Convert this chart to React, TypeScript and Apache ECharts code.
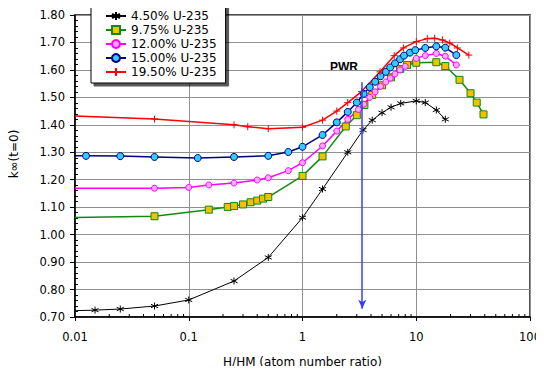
import React, { useEffect, useRef } from "react";
import * as echarts from "echarts";

const seriesNames = ["4.50% U-235", "9.75% U-235", "12.00% U-235", "15.00% U-235", "19.50% U-235"];

const u450: [number, number][] = [
  [0.01, 0.723], [0.015, 0.725], [0.025, 0.729], [0.05, 0.74], [0.1, 0.762], [0.25, 0.831],
  [0.5, 0.917], [1, 1.062], [1.5, 1.166], [2.5, 1.3], [3.4, 1.381], [4.1, 1.417], [5, 1.444],
  [6, 1.464], [7.3, 1.478], [10, 1.487], [12, 1.481], [15, 1.454], [18, 1.42],
];
const u975: [number, number][] = [
  [0.01, 1.062], [0.05, 1.067], [0.15, 1.091], [0.22, 1.101], [0.25, 1.104], [0.3, 1.11],
  [0.35, 1.118], [0.4, 1.124], [0.45, 1.131], [0.5, 1.137], [1, 1.214], [1.5, 1.285],
  [2.4, 1.394], [3.0, 1.435], [3.5, 1.472], [4.1, 1.509], [5, 1.544], [6, 1.573], [7.2, 1.603],
  [8.3, 1.618], [10, 1.626], [15, 1.628], [18, 1.614], [24, 1.564], [30, 1.515], [34, 1.481], [39, 1.438],
];
const u1200: [number, number][] = [
  [0.01, 1.169], [0.05, 1.169], [0.1, 1.172], [0.15, 1.181], [0.25, 1.188], [0.4, 1.199],
  [0.5, 1.207], [0.75, 1.233], [1, 1.262], [1.5, 1.323], [2, 1.377], [2.5, 1.42], [3.1, 1.456],
  [3.45, 1.475], [3.9, 1.5], [4.35, 1.52], [4.85, 1.54], [5.4, 1.556], [5.9, 1.57], [6.5, 1.585],
  [7.2, 1.6], [8, 1.613], [10, 1.642], [12, 1.652], [15, 1.66], [18, 1.65], [22.5, 1.618],
];
const u1500: [number, number][] = [
  [0.01, 1.287], [0.0125, 1.287], [0.025, 1.286], [0.05, 1.283], [0.12, 1.279], [0.25, 1.283],
  [0.5, 1.287], [0.75, 1.301], [1, 1.32], [1.5, 1.363], [2, 1.409], [2.5, 1.447], [3, 1.481],
  [3.45, 1.513], [3.9, 1.537], [4.35, 1.557], [4.85, 1.577], [5.4, 1.593], [5.9, 1.609],
  [6.5, 1.624], [7.2, 1.639], [7.8, 1.652], [8.8, 1.663], [9.8, 1.672], [12, 1.68], [15, 1.686],
  [18, 1.681], [22.5, 1.654],
];
const u1950: [number, number][] = [
  [0.01, 1.432], [0.05, 1.421], [0.25, 1.4], [0.33, 1.393], [0.5, 1.386], [1, 1.391], [1.5, 1.417],
  [2, 1.45], [2.5, 1.481], [3.3, 1.521], [4.8, 1.593], [6.4, 1.652], [7.7, 1.68], [10, 1.703],
  [12.5, 1.714], [14.5, 1.715], [17, 1.709], [19.7, 1.698], [23, 1.68], [29, 1.654],
];

const xMinorTicks: number[] = [
  0.02, 0.03, 0.04, 0.05, 0.06, 0.07, 0.08, 0.09,
  0.2, 0.3, 0.4, 0.5, 0.6, 0.7, 0.8, 0.9,
  2, 3, 4, 5, 6, 7, 8, 9,
  20, 30, 40, 50, 60, 70, 80, 90,
];

const pwrArrowX = 3.35;
const pwrArrowTop = 1.555;
const pwrArrowBottom = 0.73;
const pwrLabel = "PWR";
const xAxisName = "H/HM (atom number ratio)";
const yAxisName = "k\u221e(t=0)";

const FONT = "DejaVu Sans";

const asterisk = "path://M5,0L5,10M0.7,2.5L9.3,7.5M0.7,7.5L9.3,2.5";
const plus = "path://M5,0L5,10M0,5L10,5";

function toData(pts: [number, number][]) {
  return pts.map((p, i) => (i === 0 ? { value: p, symbol: "none" } : { value: p }));
}

export default function App() {
  const ref = useRef<HTMLDivElement>(null);
  useEffect(() => {
    if (!ref.current) return;
    const chart = echarts.init(ref.current, undefined, { renderer: "svg" });
    const lineSeries = [
      { name: seriesNames[0], data: u450, color: "#000000", symbol: asterisk, size: 7, fill: "none", border: "#000000", width: 1 },
      { name: seriesNames[1], data: u975, color: "#108a10", symbol: "rect", size: 7, fill: "#f2c200", border: "#108a10", width: 1.5 },
      { name: seriesNames[2], data: u1200, color: "#ff00ff", symbol: "circle", size: 6, fill: "#ffa8ff", border: "#ff00ff", width: 1.5 },
      { name: seriesNames[3], data: u1500, color: "#000080", symbol: "circle", size: 7, fill: "#33ccff", border: "#000080", width: 1.5 },
      { name: seriesNames[4], data: u1950, color: "#ff0000", symbol: plus, size: 7, fill: "none", border: "#ff0000", width: 1.5 },
    ].map((s) => ({
      type: "line",
      name: s.name,
      data: toData(s.data),
      symbol: s.symbol,
      symbolSize: s.size,
      showSymbol: true,
      lineStyle: { color: s.color, width: s.width },
      itemStyle: { color: s.fill, borderColor: s.border, borderWidth: 1 },
      color: s.color,
      z: 3,
    }));

    const option: any = {
      animation: false,
      grid: { left: 74, right: 11, top: 15, bottom: 57, show: true, borderColor: "#111", borderWidth: 1.5, backgroundColor: "transparent" },
      legend: {
        data: seriesNames,
        orient: "vertical",
        left: 91,
        top: 5,
        padding: [4, 9, 4, 14],
        itemGap: 0,
        itemWidth: 20,
        itemHeight: 10,
        backgroundColor: "#fff",
        borderColor: "#000",
        borderWidth: 1,
        shadowColor: "rgba(0,0,0,0.65)",
        shadowBlur: 1,
        shadowOffsetX: 3,
        shadowOffsetY: 3,
        textStyle: { fontFamily: FONT, fontSize: 12, color: "#000", lineHeight: 14 },
      },
      xAxis: {
        type: "log",
        logBase: 10,
        min: 0.01,
        max: 100,
        name: xAxisName,
        nameLocation: "middle",
        nameGap: 39,
        nameTextStyle: { fontFamily: FONT, fontSize: 12, color: "#000" },
        axisLine: { lineStyle: { color: "#000", width: 1.5 } },
        axisTick: { show: true, length: 4, lineStyle: { color: "#000" } },
        axisLabel: {
          margin: 14,
          fontFamily: FONT,
          fontSize: 11.5,
          color: "#000",
          formatter: (v: number) => String(parseFloat(v.toPrecision(6))),
        },
        splitLine: { show: true, lineStyle: { color: "#909090", width: 1 } },
      },
      yAxis: [
        {
          type: "value",
          min: 0.7,
          max: 1.8,
          interval: 0.1,
          name: yAxisName,
          nameLocation: "middle",
          nameGap: 55,
          nameTextStyle: { fontFamily: FONT, fontSize: 12, color: "#000", padding: [0, 0, 0, 24] },
          axisLine: { show: true, lineStyle: { color: "#000", width: 1.5 } },
          axisTick: { show: true, length: 5, lineStyle: { color: "#000" } },
          axisLabel: { margin: 10, fontFamily: FONT, fontSize: 11.5, color: "#000", formatter: (v: number) => v.toFixed(2) },
          splitLine: { show: true, lineStyle: { color: "#909090", width: 1 } },
        },
        {
          type: "value",
          min: 0.7,
          max: 1.8,
          interval: 0.1,
          position: "left",
          axisLine: { show: false },
          axisTick: { show: false, inside: true },
          axisLabel: { show: false },
          splitLine: { show: false },
          minorTick: { show: true, splitNumber: 5, length: 3, lineStyle: { color: "#000", width: 1 } },
        },
      ],
      graphic: [
        {
          type: "text",
          left: 330,
          top: 61,
          style: { text: pwrLabel, fontFamily: "Liberation Sans", fontWeight: "bold", fontSize: 12, fill: "#000" },
        },
      ],
      series: [
        ...lineSeries,
        {
          type: "line",
          name: "pwrArrow",
          data: [],
          silent: true,
          markLine: {
            silent: true,
            symbol: ["none", "arrow"],
            symbolSize: [6, 9],
            label: { show: false },
            lineStyle: { color: "#3b3bff", width: 1.5, type: "solid" },
            data: [[{ coord: [pwrArrowX, pwrArrowTop] }, { coord: [pwrArrowX, pwrArrowBottom] }]],
          },
          z: 2,
        },
        {
          type: "custom",
          name: "xMinor",
          silent: true,
          clip: false,
          data: xMinorTicks.map((v) => [v, 0.7]),
          encode: { x: 0, y: 1 },
          renderItem: (_p: any, api: any) => {
            const pt = api.coord([api.value(0), api.value(1)]);
            return {
              type: "line",
              shape: { x1: pt[0], y1: pt[1], x2: pt[0], y2: pt[1] - 3 },
              style: { stroke: "#000", lineWidth: 1 },
            };
          },
          z: 4,
        },
      ],
    };
    chart.setOption(option);
    return () => chart.dispose();
  }, []);
  return <div ref={ref} style={{ width: 544, height: 374, margin: -8 }} />;
}
